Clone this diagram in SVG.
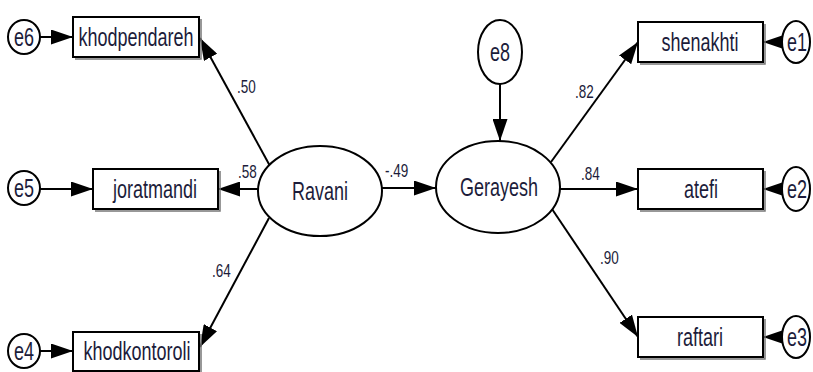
<svg xmlns="http://www.w3.org/2000/svg" width="813" height="372" viewBox="0 0 813 372">
<style>
.bg{fill:#fff}
.box{fill:#fff;stroke:#000;stroke-width:2}
.shadow{fill:none;stroke:#777;stroke-width:1.5}
.ell{fill:#fff;stroke:#000;stroke-width:2}
.t{font-family:"Liberation Sans",Arial,sans-serif;font-size:18px;fill:#1c1c3a;text-anchor:middle}
.lbl{font-family:"Liberation Sans",Arial,sans-serif;font-size:13.5px;fill:#1c1c3a;text-anchor:start}
.edge{stroke:#000;stroke-width:2;fill:none;marker-end:url(#ah)}
</style>
<defs>
<marker id="ah" markerUnits="userSpaceOnUse" markerWidth="22" markerHeight="15" refX="22" refY="7.5" orient="auto">
<path d="M0,0 L22,7.5 L0,15 z" fill="#000"/>
</marker>
</defs>
<rect class="bg" x="0" y="0" width="813" height="372"/>

<g id="connectors">
<line class="edge" x1="40" y1="37" x2="73" y2="37"/>
<line class="edge" x1="40" y1="189" x2="93" y2="189"/>
<line class="edge" x1="40" y1="351" x2="73" y2="351"/>
<line class="edge" x1="270" y1="166" x2="200" y2="38"/>
<line class="edge" x1="258" y1="189" x2="218" y2="189"/>
<line class="edge" x1="269" y1="218" x2="200" y2="347"/>
<line class="edge" x1="382" y1="188" x2="436" y2="188"/>
<line class="edge" x1="500" y1="84" x2="500" y2="141"/>
<line class="edge" x1="551" y1="162" x2="638" y2="42"/>
<line class="edge" x1="560" y1="189" x2="638" y2="189"/>
<line class="edge" x1="552" y1="209" x2="638" y2="337"/>
<line class="edge" x1="782" y1="42" x2="763" y2="42"/>
<line class="edge" x1="782" y1="189" x2="763" y2="189"/>
<line class="edge" x1="782" y1="337" x2="763" y2="337"/>
<text class="lbl" transform="translate(237,93) scale(1,1.4)">.50</text>
<text class="lbl" transform="translate(238,178) scale(1,1.4)">.58</text>
<text class="lbl" transform="translate(212,277) scale(1,1.4)">.64</text>
<text class="lbl" transform="translate(385,177) scale(1,1.4)">-.49</text>
<text class="lbl" transform="translate(575,98) scale(1,1.4)">.82</text>
<text class="lbl" transform="translate(581,180) scale(1,1.4)">.84</text>
<text class="lbl" transform="translate(600,264) scale(1,1.4)">.90</text>
</g>

<g id="e6"><ellipse class="ell" cx="24" cy="37" rx="16" ry="17"/><text class="t" transform="translate(24,46) scale(1,1.4)">e6</text></g>
<g id="e5"><ellipse class="ell" cx="24" cy="188" rx="16" ry="17"/><text class="t" transform="translate(24,197) scale(1,1.4)">e5</text></g>
<g id="e4"><ellipse class="ell" cx="24" cy="351" rx="16" ry="17"/><text class="t" transform="translate(24,360) scale(1,1.4)">e4</text></g>

<g id="khodpendareh"><path class="shadow" d="M201,19 V59 H75"/><rect class="box" x="73" y="17" width="126" height="40"/><text class="t" transform="translate(136,46) scale(1,1.4)">khodpendareh</text></g>
<g id="joratmandi"><path class="shadow" d="M220,171 V211 H95"/><rect class="box" x="93" y="169" width="125" height="40"/><text class="t" transform="translate(155,198) scale(1,1.4)">joratmandi</text></g>
<g id="khodkontoroli"><path class="shadow" d="M201,334 V373 H75"/><rect class="box" x="73" y="332" width="126" height="39"/><text class="t" transform="translate(137,360) scale(1,1.4)">khodkontoroli</text></g>

<g id="Ravani"><ellipse class="ell" cx="320" cy="191" rx="62" ry="45"/><text class="t" transform="translate(320,200) scale(1,1.4)">Ravani</text></g>
<g id="Gerayesh"><ellipse class="ell" cx="498" cy="187" rx="62" ry="46"/><text class="t" transform="translate(499,196) scale(1,1.4)">Gerayesh</text></g>
<g id="e8"><ellipse class="ell" cx="500" cy="52" rx="22" ry="32"/><text class="t" transform="translate(500,61) scale(1,1.4)">e8</text></g>

<g id="shenakhti"><path class="shadow" d="M765,24 V64 H640"/><rect class="box" x="638" y="22" width="125" height="40"/><text class="t" transform="translate(700,51) scale(1,1.4)">shenakhti</text></g>
<g id="atefi"><path class="shadow" d="M765,171 V211 H640"/><rect class="box" x="638" y="169" width="125" height="40"/><text class="t" transform="translate(701,198) scale(1,1.4)">atefi</text></g>
<g id="raftari"><path class="shadow" d="M765,319 V359 H640"/><rect class="box" x="638" y="317" width="125" height="40"/><text class="t" transform="translate(700,346) scale(1,1.4)">raftari</text></g>

<g id="e1"><ellipse class="ell" cx="796" cy="42" rx="14" ry="21"/><text class="t" transform="translate(797,51) scale(1,1.4)">e1</text></g>
<g id="e2"><ellipse class="ell" cx="796" cy="189" rx="14" ry="22"/><text class="t" transform="translate(797,198) scale(1,1.4)">e2</text></g>
<g id="e3"><ellipse class="ell" cx="796" cy="337" rx="14" ry="21"/><text class="t" transform="translate(797,346) scale(1,1.4)">e3</text></g>
</svg>
